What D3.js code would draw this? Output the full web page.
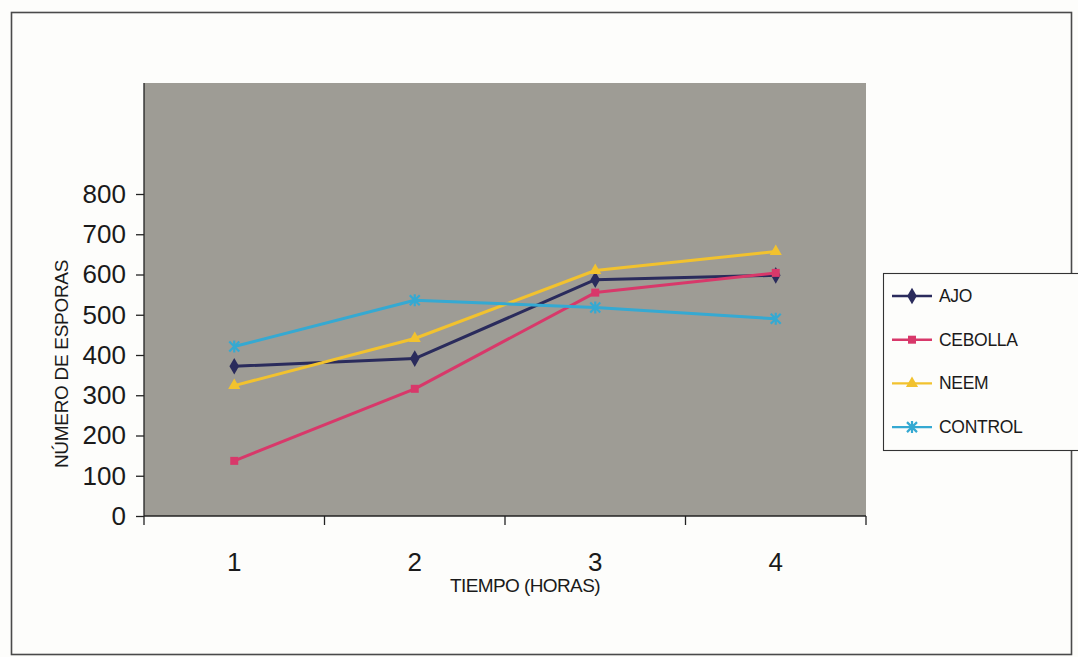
<!DOCTYPE html>
<html>
<head>
<meta charset="utf-8">
<script src="https://cdn.jsdelivr.net/npm/d3@7/dist/d3.min.js"></script>
<style>
  html, body { margin: 0; padding: 0; background: #fdfdfb; }
  svg { display: block; font-family: "Liberation Sans", Arial, sans-serif; }
</style>
</head>
<body>
<svg id="chart" width="1078" height="657"></svg>
<script>
// Spore counts per treatment over time (hours)
const hours = [1, 2, 3, 4];
const yTicks = [0, 100, 200, 300, 400, 500, 600, 700, 800];
const ajo = [372, 391, 587, 598];
const cebolla = [137, 316, 555, 604];
const neem = [324, 441, 610, 657];
const control = [421, 536, 518, 490];

const series = [
  { name: "AJO", values: ajo, color: "#2a2b5c", symbol: d3.symbolDiamond, size: 80 },
  { name: "CEBOLLA", values: cebolla, color: "#d8386a", symbol: d3.symbolSquare, size: 64 },
  { name: "NEEM", values: neem, color: "#f2c22e", symbol: d3.symbolTriangle, size: 64 },
  { name: "CONTROL", values: control, color: "#35a9d2", symbol: "cross", size: 0 }
];

const svg = d3.select("#chart");

// frame around the whole chart
svg.append("rect")
  .attr("x", 11.5).attr("y", 12.5)
  .attr("width", 1060).attr("height", 642)
  .attr("fill", "none").attr("stroke", "#4a4a4a").attr("stroke-width", 1.6);

const plotLeft = 144, plotRight = 866, plotBottom = 516, plotTop = 83;

const x = d3.scaleBand().domain(hours).range([plotLeft, plotRight]).padding(0);
const y = d3.scaleLinear().domain([0, 800]).range([plotBottom, 194]);

// plot background
svg.append("rect")
  .attr("x", plotLeft).attr("y", plotTop)
  .attr("width", plotRight - plotLeft).attr("height", plotBottom - plotTop)
  .attr("fill", "#9e9c95");

// y axis
const yAxis = svg.append("g").attr("transform", `translate(${plotLeft},0)`)
  .call(d3.axisLeft(y).tickValues(yTicks).tickSize(8).tickPadding(10));
yAxis.select(".domain").attr("d", `M0,${plotTop}V${plotBottom}`).attr("stroke", "#222").attr("stroke-width", 1.3);
yAxis.selectAll(".tick line").attr("stroke", "#222").attr("stroke-width", 1.3);
yAxis.selectAll(".tick text")
  .attr("fill", "#1a1a1a").attr("font-size", 26)
  .attr("font-family", "Liberation Sans, Arial, sans-serif");

// x axis: ticks on category boundaries, labels centred
const xg = svg.append("g").attr("transform", `translate(0,${plotBottom})`);
xg.append("line").attr("x1", plotLeft).attr("x2", plotRight).attr("y1", 0).attr("y2", 0)
  .attr("stroke", "#222").attr("stroke-width", 1.3);
const edges = hours.map(h => x(h)).concat([x(hours[hours.length - 1]) + x.bandwidth()]);
xg.selectAll("line.tk").data(edges).join("line").attr("class", "tk")
  .attr("x1", d => d).attr("x2", d => d).attr("y1", 0).attr("y2", 9)
  .attr("stroke", "#222").attr("stroke-width", 1.3);
xg.selectAll("text").data(hours).join("text")
  .attr("x", d => x(d) + x.bandwidth() / 2).attr("y", 55)
  .attr("text-anchor", "middle").attr("font-size", 26).attr("fill", "#1a1a1a")
  .text(d => d);

// axis titles
svg.append("text")
  .attr("x", 525).attr("y", 592).attr("text-anchor", "middle")
  .attr("font-size", 19).attr("letter-spacing", -0.6).attr("fill", "#1a1a1a")
  .text("TIEMPO (HORAS)");
svg.append("text")
  .attr("transform", "translate(68,364) rotate(-90)")
  .attr("text-anchor", "middle").attr("font-size", 19).attr("letter-spacing", -0.3).attr("fill", "#1a1a1a")
  .text("NÚMERO DE ESPORAS");

const cx = d => x(d) + x.bandwidth() / 2;
const line = d3.line().x((v, i) => cx(hours[i])).y(v => y(v));

function drawMarker(g, s, px, py) {
  if (s.symbol === "cross") {
    const r = 5;
    g.append("path")
      .attr("d", `M${px - r},${py - r}L${px + r},${py + r}M${px - r},${py + r}L${px + r},${py - r}M${px},${py - r - 1}V${py + r + 1}`)
      .attr("stroke", s.color).attr("stroke-width", 2.2).attr("fill", "none");
  } else {
    g.append("path")
      .attr("d", d3.symbol().type(s.symbol).size(s.size)())
      .attr("transform", `translate(${px},${py})`)
      .attr("fill", s.color);
  }
}

// series lines and markers
series.forEach(s => {
  const g = svg.append("g");
  g.append("path").datum(s.values).attr("d", line)
    .attr("fill", "none").attr("stroke", s.color).attr("stroke-width", 3)
    .attr("stroke-linejoin", "round");
  s.values.forEach((v, i) => drawMarker(g, s, cx(hours[i]), y(v)));
});

// legend
const lg = svg.append("g");
lg.append("rect").attr("x", 883.5).attr("y", 273.5).attr("width", 200).attr("height", 177)
  .attr("fill", "#fdfdfb").attr("stroke", "#333").attr("stroke-width", 1.1);
series.forEach((s, i) => {
  const ly = 296 + i * 43.7;
  lg.append("line").attr("x1", 892).attr("x2", 932).attr("y1", ly).attr("y2", ly)
    .attr("stroke", s.color).attr("stroke-width", 2.4);
  drawMarker(lg, s, 912, ly);
  lg.append("text").attr("x", 939).attr("y", ly + 6).attr("font-size", 17.5)
    .attr("letter-spacing", -0.3).attr("fill", "#1a1a1a").text(s.name);
});
</script>
</body>
</html>
